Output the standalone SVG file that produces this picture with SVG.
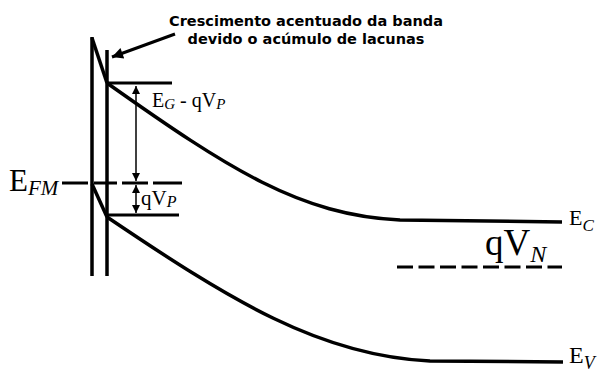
<svg xmlns="http://www.w3.org/2000/svg" width="601" height="374" viewBox="0 0 601 374">
<style>
.band{fill:none;stroke:#000;stroke-width:3.5;stroke-linecap:butt}
.lvl{fill:none;stroke:#000;stroke-width:3}
.dim{fill:none;stroke:#000;stroke-width:1.5}
.serif{font-family:"Liberation Serif","DejaVu Serif",serif;fill:#000}
.it{font-style:italic}
.note{font-family:"DejaVu Sans","Verdana",sans-serif;font-weight:bold;font-size:14.5px;fill:#000}
</style>
<defs>
<marker id="ah" viewBox="0 0 10 10" refX="10" refY="5" markerWidth="10" markerHeight="8" markerUnits="userSpaceOnUse" orient="auto">
<path d="M0,0 L10,5 L0,10 Z" fill="#000"/>
</marker>
<marker id="ahBig" viewBox="0 0 10 10" refX="10" refY="5" markerWidth="13" markerHeight="11" markerUnits="userSpaceOnUse" orient="auto">
<path d="M0,0 L10,5 L0,10 Z" fill="#000"/>
</marker>
</defs>
<g id="interface">
<line class="band" x1="92" y1="37" x2="92" y2="276"/>
<line class="band" x1="107" y1="50" x2="107" y2="276"/>
<line class="band" x1="92" y1="38" x2="107" y2="83"/>
<line class="band" x1="92" y1="184" x2="107" y2="217"/>
</g>
<g id="Ec">
<path class="band" d="M107,83 C230,170 300,215 400,220 L562,222"/>
<line class="lvl" x1="107" y1="83" x2="172" y2="83"/>
</g>
<g id="Ev">
<path class="band" d="M107,217 C230,300 320,356 430,361 L563,362"/>
<line class="lvl" x1="107" y1="215" x2="179" y2="215"/>
</g>
<g id="EFM">
<path class="lvl" d="M62,183 H88 M94,183 H117 M122,183 H148 M153,183 H182"/>
</g>
<g id="qVN-level">
<line class="lvl" x1="397" y1="267" x2="562" y2="267" stroke-dasharray="16,5.5"/>
</g>
<g id="connectors">
<line class="dim" x1="136" y1="132" x2="136" y2="86" marker-end="url(#ah)"/>
<line class="dim" x1="136" y1="132" x2="136" y2="181" marker-end="url(#ah)"/>
<line class="dim" x1="136" y1="199" x2="136" y2="185" marker-end="url(#ah)"/>
<line class="dim" x1="136" y1="199" x2="136" y2="213" marker-end="url(#ah)"/>
<line x1="175" y1="34" x2="112" y2="57" stroke="#000" stroke-width="3" marker-end="url(#ahBig)"/>
</g>
<g id="labels">
<text class="serif" x="9" y="191" font-size="31">E<tspan class="it" font-size="21" dy="4">FM</tspan></text>
<text class="serif" x="152" y="107" font-size="20">E<tspan class="it" font-size="15" dy="2">G</tspan><tspan dy="-2"> - qV</tspan><tspan class="it" font-size="15" dy="2">P</tspan></text>
<text class="serif" x="141" y="205" font-size="21">qV<tspan class="it" font-size="16" dy="2">P</tspan></text>
<text class="serif" x="569" y="225" font-size="22">E<tspan class="it" font-size="17" dy="6">C</tspan></text>
<text class="serif" x="569" y="363" font-size="24">E<tspan class="it" font-size="18" dy="6">V</tspan></text>
<text class="serif" x="485" y="255" font-size="37">qV<tspan class="it" font-size="24" dy="7">N</tspan></text>
<text class="note" x="306" y="26" text-anchor="middle">Crescimento acentuado da banda</text>
<text class="note" x="306" y="44" text-anchor="middle">devido o acúmulo de lacunas</text>
</g>
</svg>
